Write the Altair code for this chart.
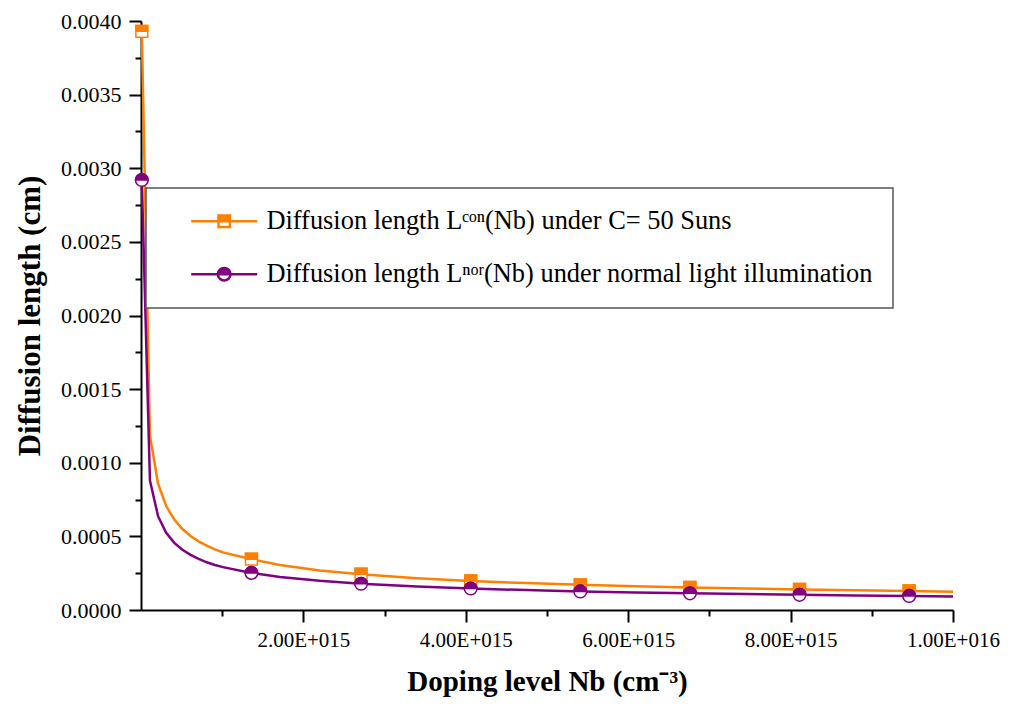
import altair as alt
import pandas as pd

ORANGE = "#FF8000"
PURPLE = "#800080"

SERIES_CON = "Diffusion length Lᶜᵒⁿ(Nb) under C= 50 Suns"
SERIES_NOR = "Diffusion length Lⁿᵒʳ(Nb) under normal light illumination"

# Doping level Nb (cm^-3) of the curve points
doping = [1e13, 1.1e14, 2.1e14, 3.1e14, 4.1e14, 5.1e14, 6.1e14, 7.1e14, 8.1e14, 9.1e14,
          1.01e15, 1.36e15, 1.71e15, 2.2e15, 2.71e15, 3.4e15, 4.06e15, 4.74e15, 5.41e15,
          6.09e15, 6.76e15, 7.44e15, 8.11e15, 8.79e15, 9.46e15, 1e16]
# Diffusion length (cm) under C = 50 suns
len_con = [0.00393, 0.001185, 0.000858, 0.000706, 0.000614, 0.000550, 0.000503, 0.000466,
           0.000437, 0.000412, 0.000391, 0.000345, 0.000305, 0.000268, 0.000243, 0.000216,
           0.000197, 0.000183, 0.000171, 0.000161, 0.000153, 0.000146, 0.000140, 0.000134,
           0.000129, 0.000124]
# Diffusion length (cm) under normal illumination
len_nor = [0.00292, 0.000880, 0.000637, 0.000524, 0.000456, 0.000409, 0.000374, 0.000347,
           0.000324, 0.000306, 0.000291, 0.000252, 0.000224, 0.000198, 0.000178, 0.000159,
           0.000146, 0.000135, 0.000126, 0.000119, 0.000113, 0.000108, 0.000103, 0.0000990,
           0.0000955, 0.0000925]

# marker positions
marker_doping = [1e13, 1.36e15, 2.71e15, 4.06e15, 5.41e15, 6.76e15, 8.11e15, 9.46e15]
marker_con = [0.00393, 0.000345, 0.000243, 0.000197, 0.000171, 0.000153, 0.000140, 0.000129]
marker_nor = [0.00292, 0.000252, 0.000178, 0.000146, 0.000126, 0.000113, 0.000103, 0.0000955]

x_tick_values = [1e15, 2e15, 3e15, 4e15, 5e15, 6e15, 7e15, 8e15, 9e15, 1e16]
y_tick_values = [0.0, 0.00025, 0.0005, 0.00075, 0.001, 0.00125, 0.0015, 0.00175, 0.002,
                 0.00225, 0.0025, 0.00275, 0.003, 0.00325, 0.0035, 0.00375, 0.004]

FONT = "Liberation Serif"

df_line = pd.DataFrame({
    "doping": doping + doping,
    "length": len_con + len_nor,
    "series": [SERIES_CON] * len(doping) + [SERIES_NOR] * len(doping),
})
df_mk_con = pd.DataFrame({"doping": marker_doping, "length": marker_con})
df_mk_nor = pd.DataFrame({"doping": marker_doping, "length": marker_nor})

x_major = "round(datum.value/1e15) % 2 == 0"
y_major = "round(datum.value*4000) % 2 == 0"

x_enc = alt.X(
    "doping:Q",
    scale=alt.Scale(domain=[0, 1e16], nice=False, zero=False),
    axis=alt.Axis(
        title="Doping level Nb (cm⁻³)",
        titleFontSize=29,
        values=x_tick_values,
        labelExpr=f"{x_major} ? replace(format(datum.value, '.2e'), 'e+', 'E+0') : ''",
        tickSize={"condition": {"test": x_major, "value": 12}, "value": 6},
        labelFont=FONT,
        labelFontSize=21,
        labelColor="black",
        labelPadding=7,
        titlePadding=17,
        labelFlush=False,
        labelOverlap=False,
    ),
)
y_enc = alt.Y(
    "length:Q",
    scale=alt.Scale(domain=[0, 0.004], nice=False, zero=False),
    axis=alt.Axis(
        title="Diffusion length (cm)",
        titleFontSize=31,
        titleX=-111,
        titleBaseline="middle",
        values=y_tick_values,
        labelExpr=f"{y_major} ? format(datum.value, '.4f') : ''",
        tickSize={"condition": {"test": y_major, "value": 12}, "value": 6},
        labelFont=FONT,
        labelFontSize=22,
        labelColor="black",
        labelPadding=8,
        labelFlush=False,
        labelOverlap=False,
    ),
)

# legend symbol paths: line stubs + half-filled marker
# (bottom half retraced so it stays unfilled)
SQ_LEG = ("M-5.5,0H-0.95M0.95,0H5.5M-0.95,-0.95H0.95V0H-0.95Z"
          "M-0.95,0V0.95H0.95V0V0.95H-0.95Z")
CI_LEG = ("M-5.5,0H-1.05M1.05,0H5.5M-1.05,0A1.05,1.05,0,0,1,1.05,0Z"
          "M-1.05,0A1.05,1.05,0,0,0,1.05,0A1.05,1.05,0,0,1,-1.05,0")

IS_CON = "indexof(datum.value, 'Suns') >= 0"

legend = alt.Legend(
    title=None,
    orient="none",
    legendX=5,
    legendY=167,
    symbolType={"expr": f"{IS_CON} ? '{SQ_LEG}' : '{CI_LEG}'"},
    symbolFillColor={"expr": f"{IS_CON} ? '{ORANGE}' : '{PURPLE}'"},
    symbolSize=144,
    symbolStrokeWidth=2.5,
    symbolOffset=45,
    labelOffset=29,
    labelFont=FONT,
    labelFontSize=26.4,
    labelColor="black",
    labelLimit=1000,
    padding=20,
    rowPadding=26,
    strokeColor="#555555",
    fillColor="white",
)

lines = alt.Chart(df_line).mark_line(strokeWidth=2.5).encode(
    x=x_enc,
    y=y_enc,
    color=alt.Color(
        "series:N",
        scale=alt.Scale(domain=[SERIES_CON, SERIES_NOR], range=[ORANGE, PURPLE]),
        legend=legend,
    ),
)

SQ_TOP = "M-1,-1H1V0H-1Z"
CI_TOP = "M-1,0A1,1,0,0,1,1,0Z"


def markers(df, color, shape, half, size):
    base = alt.Chart(df).encode(x=x_enc, y=y_enc)
    outline = base.mark_point(shape=shape, size=size, filled=True, fill="white",
                              stroke=color, strokeWidth=1.5, opacity=1)
    top = base.mark_point(shape=half, size=size, filled=True, fill=color,
                          stroke=color, strokeWidth=1.5, opacity=1)
    return [outline, top]


layers = [lines] + markers(df_mk_con, ORANGE, "square", SQ_TOP, 140) + \
    markers(df_mk_nor, PURPLE, "circle", CI_TOP, 160)

chart = alt.layer(*layers).properties(
    width=812,
    height=589,
    autosize="none",
    padding={"left": 141, "top": 21, "right": 65, "bottom": 104},
    background="white",
).configure_view(
    strokeWidth=0,
).configure_axis(
    domainColor="black",
    domainWidth=2,
    tickColor="black",
    tickWidth=2,
    grid=False,
    labelFont=FONT,
    labelFontSize=21,
    labelColor="black",
    titleFont=FONT,
    titleFontWeight="bold",
    titleColor="black",
).configure_legend(
    strokeWidth=1.5,
)

chart.save("out.html", embed_options={"renderer": "svg", "actions": False})
